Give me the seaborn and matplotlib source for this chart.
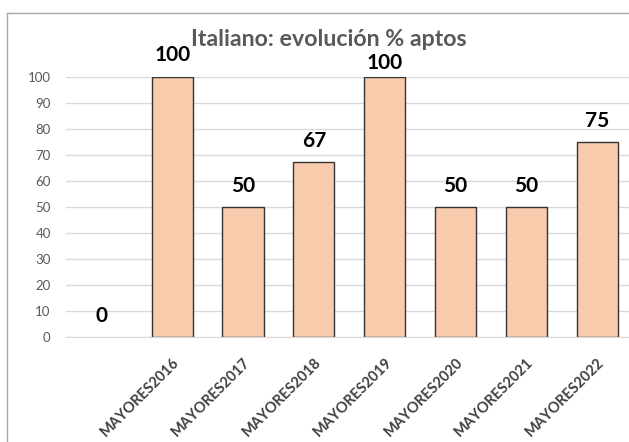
import matplotlib
matplotlib.use('Agg')
import matplotlib.pyplot as plt
import matplotlib.lines as mlines
import matplotlib.transforms as mtransforms
import seaborn as sns
import pandas as pd

# datos
categorias = [' ', 'MAYORES2016', 'MAYORES2017', 'MAYORES2018', 'MAYORES2019',
              'MAYORES2020', 'MAYORES2021', 'MAYORES2022']
aptos_pct = [0, 100, 50, 67, 100, 50, 50, 75]
yticks = list(range(0, 101, 10))

df = pd.DataFrame({'convocatoria': categorias, 'aptos': aptos_pct})

sns.set_style('white')
plt.rcParams['font.family'] = ['Lato', 'DejaVu Sans']

fig = plt.figure(figsize=(6.29, 4.42), dpi=100)
ax = fig.add_axes([66 / 629, 1 - 337 / 442, (632.5 - 66) / 629, (337 - 76.5) / 442])

sns.barplot(x='convocatoria', y='aptos', data=df, ax=ax, color='#F8CBAD',
            edgecolor='#333333', linewidth=1.0, width=0.58, saturation=1)

# barra de altura cero sin borde
for p in ax.patches:
    if p.get_height() == 0:
        p.set_linewidth(0)

etiquetas = ax.bar_label(ax.containers[0], fmt='%d', padding=8, fontsize=15,
                         fontweight='bold', color='black')
# la etiqueta de 2019 queda mas baja (bajo el titulo), como en el original
etiquetas[4].xyann = (0, 2.5)

ax.set_ylim(0, 100)
ax.set_yticks(yticks)
ax.grid(axis='y', color='#D9D9D9', linewidth=1)
ax.set_axisbelow(True)
for s in ['left', 'right', 'top']:
    ax.spines[s].set_visible(False)
ax.spines['bottom'].set_color('#D9D9D9')
ax.tick_params(axis='y', length=0, pad=11, labelsize=9.5, labelcolor='#595959')
ax.tick_params(axis='x', length=0, pad=17, labelsize=10.5, labelcolor='#404040')
offset = mtransforms.ScaledTranslation(5 / 100, 0, fig.dpi_scale_trans)
for lbl in ax.get_xticklabels():
    lbl.set_rotation(45)
    lbl.set_ha('right')
    lbl.set_va('center')
    lbl.set_rotation_mode('anchor')
    lbl.set_fontweight('bold')
    lbl.set_transform(lbl.get_transform() + offset)
ax.set_xlabel('')
ax.set_ylabel('')

fig.text(329 / 629, 1 - 39 / 442, 'Italiano: evolución % aptos', ha='center',
         va='center', fontsize=16.7, fontweight='bold', color='#595959')

# marco del area del grafico
fig.add_artist(mlines.Line2D([7 / 629, 7 / 629], [0, 1 - 13 / 442],
                             transform=fig.transFigure, color='#A6A6A6', linewidth=1))
fig.add_artist(mlines.Line2D([7 / 629, 1], [1 - 13 / 442, 1 - 13 / 442],
                             transform=fig.transFigure, color='#A6A6A6', linewidth=1))

fig.savefig('out.png', dpi=100)
